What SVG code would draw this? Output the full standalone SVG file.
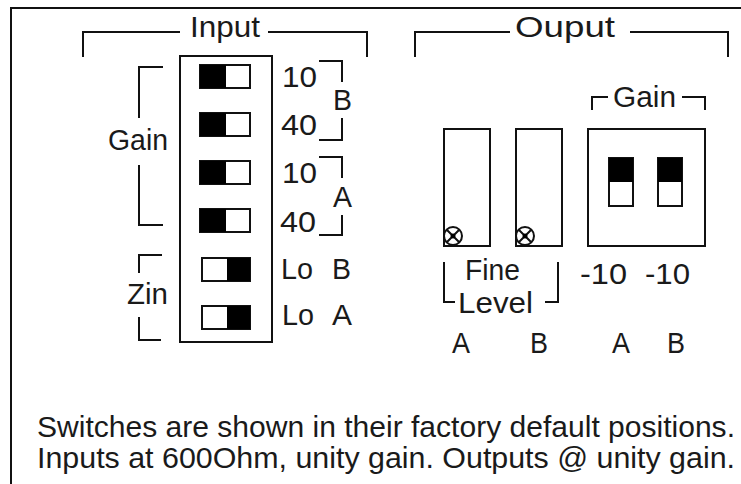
<svg xmlns="http://www.w3.org/2000/svg" width="741" height="484" viewBox="0 0 741 484">
<style>
.t{font-family:"Liberation Sans",Arial,sans-serif;font-size:30px;fill:#1a1a1a;}
.b{font-family:"Liberation Sans",Arial,sans-serif;font-size:29px;fill:#1a1a1a;}
.ln{fill:none;stroke:#111;stroke-width:2;}
.box{fill:#fff;stroke:#111;stroke-width:2;}
.blk{fill:#000;}
</style>
<rect width="741" height="484" fill="#fff"/>
<g id="frame">
<path class="ln" d="M10 8H741M11 8V484" stroke-width="3"/>
</g>
<g id="connectors">
<path class="ln" d="M83 57V32H180M268 32H367V57"/>
<path class="ln" d="M415 57V32H510M630 32H728V57"/>
<path class="ln" d="M163 67H139V118M139 165V225H163"/>
<path class="ln" d="M162 255H139V273M139 317V340H161"/>
<path class="ln" d="M319 61H342V82M342 118V140H319"/>
<path class="ln" d="M319 157H342V178M342 215V235H319"/>
<path class="ln" d="M592 110V97H608M682 97H705V110"/>
<path class="ln" d="M444 262V302H455M545 302H558V262"/>
</g>
<g id="input">
<rect class="box" x="180" y="56" width="92" height="286"/>
<text class="t" x="190" y="37" textLength="70" lengthAdjust="spacingAndGlyphs">Input</text>
<text class="t" x="108" y="150" textLength="60" lengthAdjust="spacingAndGlyphs">Gain</text>
<text class="t" x="127" y="304" textLength="41" lengthAdjust="spacingAndGlyphs">Zin</text>
</g>
<g id="sw1"><rect class="box" x="200" y="65" width="50" height="23"/><rect class="blk" x="200" y="65" width="26" height="23"/><text class="t" x="282" y="87" textLength="35" lengthAdjust="spacingAndGlyphs">10</text></g>
<g id="sw2"><rect class="box" x="200" y="113" width="50" height="23"/><rect class="blk" x="200" y="113" width="26" height="23"/><text class="t" x="281" y="135" textLength="36" lengthAdjust="spacingAndGlyphs">40</text></g>
<g id="sw3"><rect class="box" x="200" y="161" width="50" height="23"/><rect class="blk" x="200" y="161" width="26" height="23"/><text class="t" x="282" y="183" textLength="35" lengthAdjust="spacingAndGlyphs">10</text></g>
<g id="sw4"><rect class="box" x="200" y="209" width="50" height="23"/><rect class="blk" x="200" y="209" width="26" height="23"/><text class="t" x="280" y="232" textLength="36" lengthAdjust="spacingAndGlyphs">40</text></g>
<g id="sw5"><rect class="box" x="202" y="258" width="48" height="23"/><rect class="blk" x="227" y="258" width="23" height="23"/><text class="t" x="281" y="279" textLength="32" lengthAdjust="spacingAndGlyphs">Lo</text><text class="t" x="332" y="279" textLength="19" lengthAdjust="spacingAndGlyphs">B</text></g>
<g id="sw6"><rect class="box" x="202" y="306" width="48" height="23"/><rect class="blk" x="227" y="306" width="23" height="23"/><text class="t" x="282" y="325" textLength="32" lengthAdjust="spacingAndGlyphs">Lo</text><text class="t" x="332" y="325" textLength="20" lengthAdjust="spacingAndGlyphs">A</text></g>
<g id="gainB"><text class="t" x="333" y="110" textLength="19" lengthAdjust="spacingAndGlyphs">B</text></g>
<g id="gainA"><text class="t" x="333" y="207" textLength="19" lengthAdjust="spacingAndGlyphs">A</text></g>
<g id="output">
<text class="t" x="515" y="37" textLength="100" lengthAdjust="spacingAndGlyphs">Ouput</text>
</g>
<g id="fineA">
<rect class="box" x="444" y="129" width="46" height="117"/>
<circle class="box" cx="453" cy="236" r="9"/>
<path class="ln" d="M447 230L459 242M459 230L447 242" stroke-width="1.5"/>
<circle class="blk" cx="453" cy="236" r="2.5"/>
<text class="t" x="452" y="353" textLength="18" lengthAdjust="spacingAndGlyphs">A</text>
</g>
<g id="fineB">
<rect class="box" x="516" y="129" width="46" height="117"/>
<circle class="box" cx="525" cy="236" r="9"/>
<path class="ln" d="M519 230L531 242M531 230L519 242" stroke-width="1.5"/>
<circle class="blk" cx="525" cy="236" r="2.5"/>
<text class="t" x="530" y="353" textLength="18" lengthAdjust="spacingAndGlyphs">B</text>
</g>
<g id="fineLabel">
<text class="t" x="465" y="280" textLength="55" lengthAdjust="spacingAndGlyphs">Fine</text>
<text class="t" x="458" y="313" textLength="75" lengthAdjust="spacingAndGlyphs">Level</text>
</g>
<g id="gainOut">
<rect class="box" x="588" y="129" width="117" height="117"/>
<text class="t" x="613" y="107" textLength="63" lengthAdjust="spacingAndGlyphs">Gain</text>
</g>
<g id="outA">
<rect class="box" x="609" y="158" width="24" height="48"/><rect class="blk" x="609" y="158" width="24" height="24"/>
<text class="t" x="580" y="284" textLength="47" lengthAdjust="spacingAndGlyphs">-10</text>
<text class="t" x="612" y="353" textLength="18" lengthAdjust="spacingAndGlyphs">A</text>
</g>
<g id="outB">
<rect class="box" x="658" y="158" width="24" height="48"/><rect class="blk" x="658" y="158" width="24" height="24"/>
<text class="t" x="645" y="284" textLength="45" lengthAdjust="spacingAndGlyphs">-10</text>
<text class="t" x="667" y="353" textLength="18" lengthAdjust="spacingAndGlyphs">B</text>
</g>
<g id="note">
<text class="b" x="37" y="437" textLength="698" lengthAdjust="spacingAndGlyphs">Switches are shown in their factory default positions.</text>
<text class="b" x="37" y="468" textLength="698" lengthAdjust="spacingAndGlyphs">Inputs at 600Ohm, unity gain. Outputs @ unity gain.</text>
</g>
</svg>
